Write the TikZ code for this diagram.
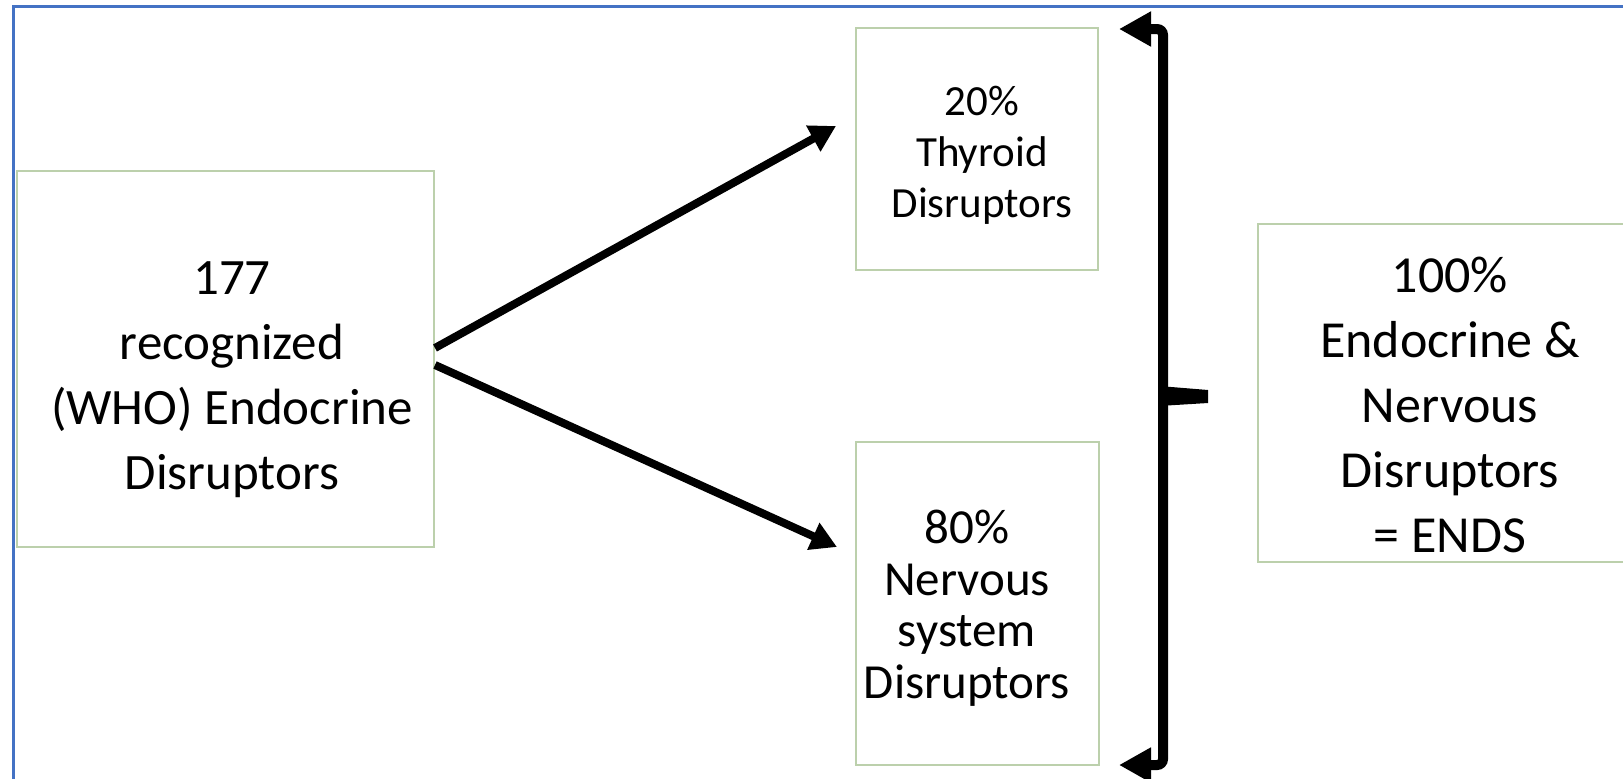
\documentclass[tikz,border=0pt]{standalone}
\usepackage{fontspec}
\setmainfont{Carlito}
\usetikzlibrary{arrows.meta}
\definecolor{boxline}{RGB}{188,208,172}
\definecolor{frameblue}{RGB}{68,114,196}
\begin{document}
\begin{tikzpicture}[x=1pt,y=-1pt,
  box/.style={draw=boxline, line width=2pt, fill=white, inner sep=0pt},
  lbl/.style={align=center, inner sep=0pt, text=black},
  conn/.style={line width=8pt, -{Triangle[length=26pt,width=28pt]}},
  bracestroke/.style={line width=10pt, rounded corners=6pt, -{Triangle[length=32pt,width=33pt]}}]
\useasboundingbox (0,0) rectangle (1623,779);
\fill[white] (0,0) rectangle (1623,779);
\draw[frameblue, line width=3pt] (13,779) -- (13,6) -- (1623,6);

% boxes
\node[box, minimum width=417pt, minimum height=376pt] (L) at (225.5,359) {};
\node[box, minimum width=242pt, minimum height=242pt] (T) at (977,149) {};
\node[box, minimum width=243pt, minimum height=323pt] (B) at (977.5,603.5) {};
\node[box, minimum width=368pt, minimum height=338pt] (R) at (1442,393) {};

% texts
\node[lbl, font=\fontsize{51}{65}\selectfont] (Ltxt) at (232,380) {177\\recognized\\(WHO) Endocrine\\Disruptors};
\node[lbl, font=\fontsize{43}{51}\selectfont] (Ttxt) at (982,155) {20\%\\Thyroid\\Disruptors};
\node[lbl, font=\fontsize{49}{51.5}\selectfont] (Btxt) at (967,608) {80\%\\Nervous\\system\\Disruptors};
\node[lbl, font=\fontsize{52}{65}\selectfont] (Rtxt) at (1450,405) {100\%\\Endocrine \&\\Nervous\\Disruptors\\= ENDS};

% arrows
\coordinate (t1) at (836,126);
\coordinate (t2) at (837,547);
\draw[conn] ([yshift=11pt]L.east) -- (t1);
\draw[conn] ([yshift=-6pt]L.east) -- (t2);

% brace
\coordinate (bmid) at (1163,397);
\coordinate (btopc) at (1163,29);
\coordinate (bbotc) at (1163,765);
\coordinate (btop) at (1119,29);
\coordinate (bbot) at (1119,765);
\draw[bracestroke] (bmid) -- (btopc) -- (btop);
\draw[bracestroke] (bmid) -- (bbotc) -- (bbot);
\fill (1159,386) -- (1208,390) -- (1208,403) -- (1159,406) -- cycle;
\end{tikzpicture}
\end{document}
